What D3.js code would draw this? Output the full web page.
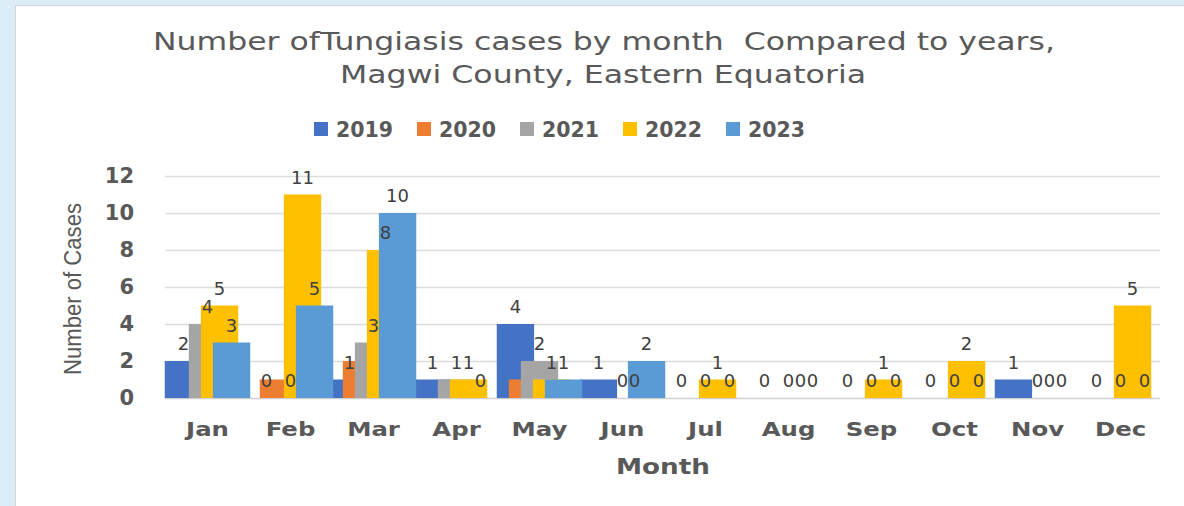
<!DOCTYPE html>
<html>
<head>
<meta charset="utf-8">
<script src="https://cdn.jsdelivr.net/npm/d3@7"></script>
<style>
body { margin: 0; background: #ddedf8; }
svg { display: block; }
</style>
</head>
<body>
<svg id="chart"></svg>
<script>
// data
const months = ["Jan", "Feb", "Mar", "Apr", "May", "Jun", "Jul", "Aug", "Sep", "Oct", "Nov", "Dec"]
const years = ["2019", "2020", "2021", "2022", "2023"]
const cases2019 = [2, 0, 1, 1, 4, 1, 0, 0, 0, 0, 1, 0]
const cases2020 = [0, 1, 2, 0, 1, 0, 0, 0, 0, 0, 0, 0]
const cases2021 = [4, 0, 3, 1, 2, 0, 0, 0, 0, 0, 0, 0]
const cases2022 = [5, 11, 8, 1, 1, 0, 1, 0, 1, 2, 0, 5]
const cases2023 = [3, 5, 10, 0, 1, 2, 0, 0, 0, 0, 0, 0]
const yTicks = [0, 2, 4, 6, 8, 10, 12]

const seriesValues = [cases2019, cases2020, cases2021, cases2022, cases2023]
const colors = ["#4472C4", "#ED7D31", "#A5A5A5", "#FFC000", "#5B9BD5"]
// the 2020 series has no data labels in the original
const showLabels = [true, false, true, true, true]

const width = 1184, height = 506
const textColor = "#595959"

const svg = d3.select("#chart")
    .attr("width", width)
    .attr("height", height)

// white chart panel on the light blue page
svg.append("rect")
    .attr("x", 15.5).attr("y", 5.5)
    .attr("width", width).attr("height", height)
    .attr("fill", "#fff")
    .attr("stroke", "#d4d4d4")

const x = d3.scaleBand()
    .domain(months)
    .range([166, 1162])
    .padding(0)

const y = d3.scaleLinear()
    .domain([0, 12])
    .range([398, 176])

const bw = x.bandwidth()
const barW = bw * 0.45
const step = bw * 0.145
const groupW = step * (years.length - 1) + barW
const barX = (m, i) => x(m) + bw / 2 - groupW / 2 + i * step

// gridlines
svg.append("g")
    .selectAll("line")
    .data(yTicks)
    .join("line")
    .attr("x1", 165).attr("x2", 1160)
    .attr("y1", d => Math.round(y(d)) + 0.5)
    .attr("y2", d => Math.round(y(d)) + 0.5)
    .attr("stroke", d => d === 0 ? "#cfcfcf" : "#dcdcdc")
    .attr("stroke-width", 1.5)

// y axis tick labels
const yAxis = svg.append("g")
    .attr("transform", "translate(134,0)")
    .call(d3.axisLeft(y).tickValues(yTicks).tickSize(0).tickPadding(0))
yAxis.select(".domain").remove()
yAxis.selectAll("text")
    .attr("font-family", "DejaVu Sans")
    .attr("font-weight", "bold")
    .attr("font-size", 21)
    .attr("fill", textColor)

// x axis month labels
const xAxis = svg.append("g")
    .attr("transform", "translate(0,398)")
    .call(d3.axisBottom(x).tickSize(0).tickPadding(24))
xAxis.select(".domain").remove()
xAxis.selectAll("text")
    .attr("font-family", "DejaVu Sans")
    .attr("font-weight", "bold")
    .attr("font-size", 20)
    .attr("fill", textColor)
    .attr("transform", "scale(1.22,1)")

// bars, later years drawn on top
seriesValues.forEach((vals, i) => {
    svg.append("g")
        .selectAll("rect")
        .data(vals.map((v, j) => ({ month: months[j], value: v })))
        .join("rect")
        .attr("x", d => barX(d.month, i))
        .attr("y", d => y(d.value))
        .attr("width", barW)
        .attr("height", d => y(0) - y(d.value))
        .attr("fill", colors[i])
})

// data labels
seriesValues.forEach((vals, i) => {
    if (!showLabels[i]) return
    svg.append("g")
        .selectAll("text")
        .data(vals.map((v, j) => ({ month: months[j], value: v })))
        .join("text")
        .attr("x", d => barX(d.month, i) + barW / 2)
        .attr("y", d => y(d.value) - 11)
        .attr("text-anchor", "middle")
        .attr("font-family", "DejaVu Sans")
        .attr("font-size", 18)
        .attr("fill", "#404040")
        .text(d => d.value)
})

// title
const title = svg.append("g")
    .attr("font-family", "DejaVu Sans")
    .attr("font-size", 24)
    .attr("fill", textColor)
    .attr("text-anchor", "middle")
title.append("text")
    .attr("x", 604).attr("y", 50)
    .attr("xml:space", "preserve")
    .style("white-space", "pre")
    .attr("textLength", 902).attr("lengthAdjust", "spacingAndGlyphs")
    .text("Number ofTungiasis cases by month  Compared to years,")
title.append("text")
    .attr("x", 603).attr("y", 83)
    .attr("textLength", 526).attr("lengthAdjust", "spacingAndGlyphs")
    .text("Magwi County, Eastern Equatoria")

// legend
const legend = svg.append("g")
    .selectAll("g")
    .data(years)
    .join("g")
    .attr("transform", (d, i) => `translate(${314 + i * 103},122)`)
legend.append("rect")
    .attr("width", 14).attr("height", 14)
    .attr("fill", (d, i) => colors[i])
legend.append("text")
    .attr("x", 22).attr("y", 15)
    .attr("font-family", "DejaVu Sans")
    .attr("font-weight", "bold")
    .attr("font-size", 21)
    .attr("fill", textColor)
    .attr("textLength", 57).attr("lengthAdjust", "spacingAndGlyphs")
    .text(d => d)

// axis titles
svg.append("text")
    .attr("transform", "translate(81,289) rotate(-90)")
    .attr("text-anchor", "middle")
    .attr("font-family", "Liberation Sans Narrow, Liberation Sans")
    .attr("font-size", 23)
    .attr("fill", textColor)
    .attr("textLength", 172).attr("lengthAdjust", "spacingAndGlyphs")
    .text("Number of Cases")

svg.append("text")
    .attr("x", 663).attr("y", 474)
    .attr("text-anchor", "middle")
    .attr("font-family", "DejaVu Sans")
    .attr("font-weight", "bold")
    .attr("font-size", 21)
    .attr("fill", textColor)
    .attr("textLength", 94).attr("lengthAdjust", "spacingAndGlyphs")
    .text("Month")
</script>
</body>
</html>
